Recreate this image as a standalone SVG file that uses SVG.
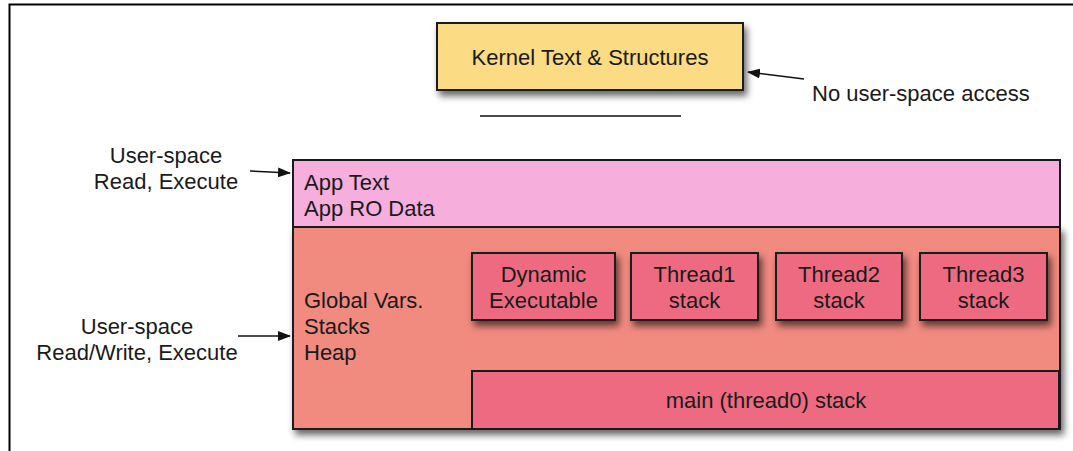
<svg xmlns="http://www.w3.org/2000/svg" width="1073" height="451" viewBox="0 0 1073 451">
<style>
text{font-family:"Liberation Sans",Arial,sans-serif;font-size:22px;fill:#1a1a1a}
.c{text-anchor:middle}
.box{stroke:#1a1a1a;stroke-width:2}
.conn{stroke:#111;stroke-width:1.6;fill:none}
</style>
<defs>
<filter id="sh" x="-10%" y="-10%" width="130%" height="140%">
<feDropShadow dx="3" dy="5" stdDeviation="3.5" flood-color="#000" flood-opacity="0.6"/>
</filter>
<marker id="ah" markerWidth="13" markerHeight="10" refX="12" refY="5" orient="auto" markerUnits="userSpaceOnUse">
<path d="M0,0 L13,5 L0,10 Z" fill="#111"/>
</marker>
</defs>
<rect width="1073" height="451" fill="#fff"/>
<g id="frame" stroke="#000" stroke-width="2" fill="none">
<path d="M1073,4.5 H9.5 V451"/>
</g>
<g id="kernel">
<rect class="box" x="437" y="23" width="306" height="67" fill="#fbdb84" filter="url(#sh)"/>
<text class="c" x="590" y="65">Kernel Text &amp; Structures</text>
</g>
<g id="divider"><line x1="480" y1="116" x2="681" y2="116" stroke="#111" stroke-width="1.6"/></g>
<g id="lower-area">
<rect class="box" x="293" y="227" width="767" height="202" fill="#f18a7f" filter="url(#sh)"/>
<text x="304" y="308">Global Vars.</text>
<text x="304" y="334">Stacks</text>
<text x="304" y="360">Heap</text>
</g>
<g id="app-text">
<rect class="box" x="293" y="160" width="767" height="67" fill="#f6aedc"/>
<text x="304" y="190">App Text</text>
<text x="304" y="216">App RO Data</text>
</g>
<g id="dynamic">
<rect class="box" x="472" y="253" width="143" height="67" fill="#ee6a80" filter="url(#sh)"/>
<text class="c" x="543.5" y="282">Dynamic</text>
<text class="c" x="543.5" y="308">Executable</text>
</g>
<g id="thread1">
<rect class="box" x="631" y="253" width="127" height="67" fill="#ee6a80" filter="url(#sh)"/>
<text class="c" x="694.5" y="282">Thread1</text>
<text class="c" x="694.5" y="308">stack</text>
</g>
<g id="thread2">
<rect class="box" x="776" y="253" width="126" height="67" fill="#ee6a80" filter="url(#sh)"/>
<text class="c" x="839" y="282">Thread2</text>
<text class="c" x="839" y="308">stack</text>
</g>
<g id="thread3">
<rect class="box" x="920" y="253" width="127" height="67" fill="#ee6a80" filter="url(#sh)"/>
<text class="c" x="983.5" y="282">Thread3</text>
<text class="c" x="983.5" y="308">stack</text>
</g>
<g id="main-stack">
<rect class="box" x="472" y="371" width="587" height="58" fill="#ee6a80"/>
<text class="c" x="766" y="408">main (thread0) stack</text>
</g>
<g id="labels">
<text x="812" y="101">No user-space access</text>
<text class="c" x="166" y="163">User-space</text>
<text class="c" x="166" y="189">Read, Execute</text>
<text class="c" x="137" y="334">User-space</text>
<text class="c" x="137" y="360">Read/Write, Execute</text>
</g>
<g id="connectors">
<line class="conn" x1="804" y1="79" x2="748" y2="72" marker-end="url(#ah)"/>
<line class="conn" x1="250" y1="171" x2="290" y2="173" marker-end="url(#ah)"/>
<line class="conn" x1="238" y1="336" x2="290" y2="336" marker-end="url(#ah)"/>
</g>
</svg>
